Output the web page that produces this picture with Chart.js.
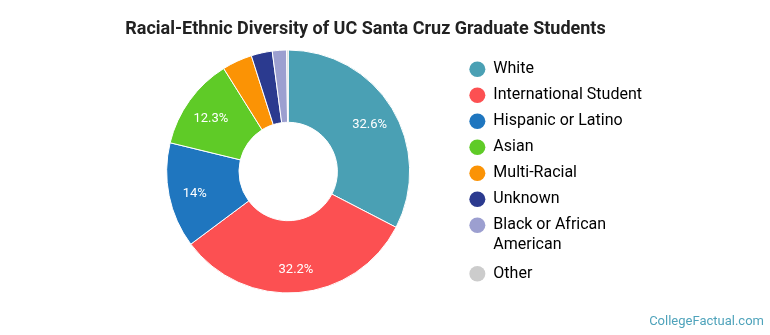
<!DOCTYPE html>
<html lang="en">
<head>
<meta charset="UTF-8">
<title>Racial-Ethnic Diversity of UC Santa Cruz Graduate Students</title>
<script src="https://cdn.jsdelivr.net/npm/chart.js"></script>
<style>
  html, body { margin: 0; padding: 0; background: #fff; }
  .wrap { position: relative; width: 770px; height: 335px; font-family: Roboto, sans-serif; }
  .title { position: absolute; left: 0; top: 17px; width: 731px; text-align: center;
           font-size: 18px; font-weight: bold; color: #222; }
  .credit { position: absolute; right: 6px; top: 313px; font-size: 13px; color: #4fa3bb; }
  canvas { position: absolute; left: 0; top: 0; }
</style>
</head>
<body>
<div class="wrap">
  <canvas id="diversity" width="770" height="335"></canvas>
  <div class="title">Racial-Ethnic Diversity of UC Santa Cruz Graduate Students</div>
  <div class="credit">CollegeFactual.com</div>
</div>

<script>
// share of graduate students, percent
const groups = ['White', 'International Student', 'Hispanic or Latino', 'Asian',
                'Multi-Racial', 'Unknown', 'Black or African American', 'Other'];
const shares = [32.6, 32.2, 14, 12.3, 4.0, 2.8, 1.9, 0.2];
const colors = ['#4aa0b4', '#fc5052', '#1f76bf', '#5fcb27', '#fb9305', '#2b3a8f', '#9c9fd0', '#cccccc'];

Chart.defaults.font.family = 'Roboto';

// wrap legend text that is too wide into several lines
function wrapText(text, font, maxW) {
    const ctx = document.createElement('canvas').getContext('2d');
    ctx.font = font;
    const words = text.split(' ');
    const lines = [];
    let line = '';
    words.forEach(w => {
        const test = line ? line + ' ' + w : w;
        if (line && ctx.measureText(test).width > maxW) {
            lines.push(line);
            line = w;
        } else {
            line = test;
        }
    });
    lines.push(line);
    return lines.length > 1 ? lines : text;
}

// percent labels inside the bigger slices
const sliceLabels = {
    id: 'sliceLabels',
    afterDatasetsDraw(chart) {
        const ctx = chart.ctx;
        const meta = chart.getDatasetMeta(0);
        ctx.save();
        ctx.font = '13px Roboto';
        ctx.fillStyle = '#fff';
        ctx.textAlign = 'center';
        ctx.textBaseline = 'middle';
        meta.data.forEach((arc, i) => {
            const v = shares[i];
            if (v < 5) return;
            const p = arc.getProps(['x', 'y', 'startAngle', 'endAngle', 'innerRadius', 'outerRadius']);
            const a = (p.startAngle + p.endAngle) / 2;
            const r = (p.innerRadius + p.outerRadius) / 2 + 10;
            ctx.fillText(v + '%', p.x + Math.cos(a) * r, p.y + Math.sin(a) * r + 3);
        });
        ctx.restore();
    }
};

new Chart(document.getElementById('diversity'), {
    type: 'doughnut',
    data: {
        labels: groups,
        datasets: [{
            data: shares,
            backgroundColor: colors,
            borderColor: '#fff',
            borderWidth: 1
        }]
    },
    options: {
        responsive: false,
        animation: false,
        radius: 121.5,
        cutout: '40.5%',
        layout: { padding: { left: 117, right: 118, top: 14, bottom: 6 } },
        plugins: {
            tooltip: { enabled: false },
            legend: {
                position: 'right',
                labels: {
                    color: '#333',
                    font: { size: 16, lineHeight: 1.2 },
                    usePointStyle: true,
                    pointStyle: 'circle',
                    boxHeight: 11,
                    pointStyleWidth: 16,
                    padding: 10,
                    generateLabels(chart) {
                        return groups.map((g, i) => ({
                            text: wrapText(g, '16px Roboto', 156),
                            fillStyle: colors[i],
                            strokeStyle: colors[i],
                            lineWidth: 0,
                            pointStyle: 'circle',
                            hidden: false,
                            index: i
                        }));
                    }
                }
            }
        }
    },
    plugins: [sliceLabels]
});
</script>
</body>
</html>
